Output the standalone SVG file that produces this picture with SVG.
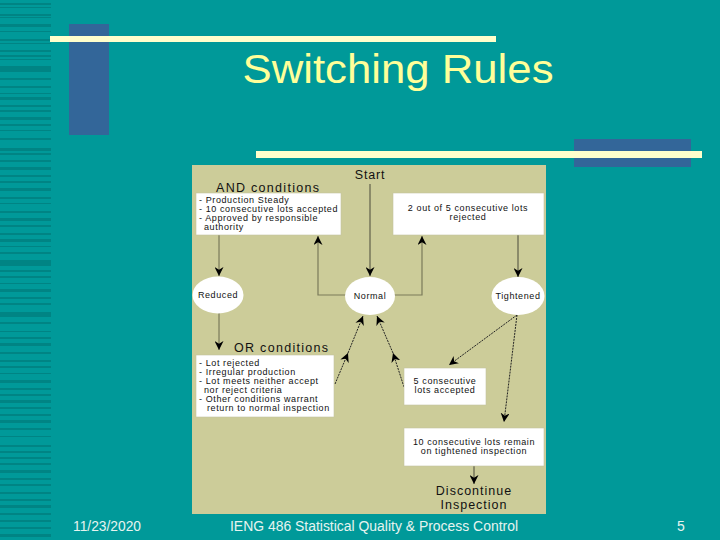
<svg xmlns="http://www.w3.org/2000/svg" width="720" height="540" viewBox="0 0 720 540">
<defs>
<style>
.bg{fill:#009999}
.stripe{fill:#008484}
.blue{fill:#336699}
.cream{fill:#ffffcc}
.title{font-family:"Liberation Sans",Arial,sans-serif;font-size:40px;fill:#ffff99;text-anchor:middle}
.foot{font-family:"Liberation Sans",Arial,sans-serif;font-size:14px;fill:#e6f4f0}
.box{fill:#ffffff;stroke:#c4c4a0;stroke-width:0.6}
.ell{fill:#ffffff}
.big{font-family:"Liberation Sans",Arial,sans-serif;font-size:12.5px;fill:#111;letter-spacing:1.3px}
.small{font-family:"Liberation Sans",Arial,sans-serif;font-size:9px;fill:#111;letter-spacing:0.6px}
.mid{text-anchor:middle}
.olive{fill:none;stroke:#7a7a5a;stroke-width:1.2}
.dark{fill:none;stroke:#4a4a3a;stroke-width:1}
.dash{fill:none;stroke:#222;stroke-width:1;stroke-dasharray:2 1}
</style>
<marker id="ah" viewBox="0 0 10 10" refX="10" refY="5" markerWidth="9" markerHeight="9" markerUnits="userSpaceOnUse" orient="auto">
<path d="M0,0 L10,5 L0,10 L3,5 z" fill="#000"/>
</marker>
</defs>
<rect class="bg" x="0" y="0" width="720" height="540"/>
<g id="stripes">
<rect class="stripe" x="0" y="3" width="51" height="2"/>
<rect class="stripe" x="0" y="7" width="51" height="1"/>
<rect class="stripe" x="0" y="14" width="51" height="2"/>
<rect class="stripe" x="0" y="17" width="51" height="1"/>
<rect class="stripe" x="0" y="24" width="51" height="3"/>
<rect class="stripe" x="0" y="31" width="51" height="1"/>
<rect class="stripe" x="0" y="39" width="51" height="2"/>
<rect class="stripe" x="0" y="43" width="51" height="1"/>
<rect class="stripe" x="0" y="50" width="51" height="2"/>
<rect class="stripe" x="0" y="55" width="51" height="2"/>
<rect class="stripe" x="0" y="59" width="51" height="1"/>
<rect class="stripe" x="0" y="66" width="51" height="6"/>
<rect class="stripe" x="0" y="78" width="51" height="2"/>
<rect class="stripe" x="0" y="86" width="51" height="2"/>
<rect class="stripe" x="0" y="93" width="51" height="1"/>
<rect class="stripe" x="0" y="97" width="51" height="3"/>
<rect class="stripe" x="0" y="105" width="51" height="2"/>
<rect class="stripe" x="0" y="110" width="51" height="2"/>
<rect class="stripe" x="0" y="117" width="51" height="3"/>
<rect class="stripe" x="0" y="124" width="51" height="2"/>
<rect class="stripe" x="0" y="130" width="51" height="1"/>
<rect class="stripe" x="0" y="138" width="51" height="2"/>
<rect class="stripe" x="0" y="148" width="51" height="3"/>
<rect class="stripe" x="0" y="153" width="51" height="2"/>
<rect class="stripe" x="0" y="160" width="51" height="2"/>
<rect class="stripe" x="0" y="167" width="51" height="3"/>
<rect class="stripe" x="0" y="175" width="51" height="2"/>
<rect class="stripe" x="0" y="181" width="51" height="2"/>
<rect class="stripe" x="0" y="188" width="51" height="3"/>
<rect class="stripe" x="0" y="197" width="51" height="2"/>
<rect class="stripe" x="0" y="203" width="51" height="1"/>
<rect class="stripe" x="0" y="211" width="51" height="2"/>
<rect class="stripe" x="0" y="218" width="51" height="3"/>
<rect class="stripe" x="0" y="225" width="51" height="2"/>
<rect class="stripe" x="0" y="233" width="51" height="2"/>
<rect class="stripe" x="0" y="239" width="51" height="3"/>
<rect class="stripe" x="0" y="246" width="51" height="1"/>
<rect class="stripe" x="0" y="252" width="51" height="2"/>
<rect class="stripe" x="0" y="260" width="51" height="6"/>
<rect class="stripe" x="0" y="270" width="51" height="2"/>
<rect class="stripe" x="0" y="276" width="51" height="2"/>
<rect class="stripe" x="0" y="283" width="51" height="1"/>
<rect class="stripe" x="0" y="289" width="51" height="3"/>
<rect class="stripe" x="0" y="297" width="51" height="2"/>
<rect class="stripe" x="0" y="303" width="51" height="2"/>
<rect class="stripe" x="0" y="312" width="51" height="5"/>
<rect class="stripe" x="0" y="322" width="51" height="2"/>
<rect class="stripe" x="0" y="331" width="51" height="1"/>
<rect class="stripe" x="0" y="337" width="51" height="2"/>
<rect class="stripe" x="0" y="343" width="51" height="3"/>
<rect class="stripe" x="0" y="352" width="51" height="2"/>
<rect class="stripe" x="0" y="360" width="51" height="2"/>
<rect class="stripe" x="0" y="366" width="51" height="2"/>
<rect class="stripe" x="0" y="373" width="51" height="1"/>
<rect class="stripe" x="0" y="380" width="51" height="3"/>
<rect class="stripe" x="0" y="388" width="51" height="2"/>
<rect class="stripe" x="0" y="394" width="51" height="2"/>
<rect class="stripe" x="0" y="400" width="51" height="3"/>
<rect class="stripe" x="0" y="407" width="51" height="2"/>
<rect class="stripe" x="0" y="414" width="51" height="2"/>
<rect class="stripe" x="0" y="420" width="51" height="3"/>
<rect class="stripe" x="0" y="428" width="51" height="2"/>
<rect class="stripe" x="0" y="436" width="51" height="1"/>
<rect class="stripe" x="0" y="445" width="51" height="2"/>
<rect class="stripe" x="0" y="451" width="51" height="2"/>
<rect class="stripe" x="0" y="457" width="51" height="2"/>
<rect class="stripe" x="0" y="463" width="51" height="2"/>
<rect class="stripe" x="0" y="470" width="51" height="3"/>
<rect class="stripe" x="0" y="478" width="51" height="2"/>
<rect class="stripe" x="0" y="484" width="51" height="2"/>
<rect class="stripe" x="0" y="492" width="51" height="2"/>
<rect class="stripe" x="0" y="499" width="51" height="2"/>
<rect class="stripe" x="0" y="505" width="51" height="3"/>
<rect class="stripe" x="0" y="513" width="51" height="2"/>
<rect class="stripe" x="0" y="520" width="51" height="2"/>
<rect class="stripe" x="0" y="527" width="51" height="2"/>
<rect class="stripe" x="0" y="534" width="51" height="3"/>
</g>
<g id="decor">
<rect class="blue" x="69" y="24" width="40" height="111"/>
<rect class="blue" x="574" y="139" width="117" height="28"/>
<rect class="cream" x="50" y="36" width="446" height="6"/>
<rect class="cream" x="256" y="151" width="446" height="7"/>
</g>
<text class="title" x="398" y="83" textLength="311" lengthAdjust="spacingAndGlyphs">Switching Rules</text>
<rect id="panel" x="192" y="165" width="354" height="349" fill="#cccc99"/>
<g id="connectors">
<line class="olive" x1="219" y1="235" x2="219" y2="276" marker-end="url(#ah)"/>
<path class="olive" d="M346,295 H318 V236" marker-end="url(#ah)"/>
<path class="olive" d="M394,295 H422 V236" marker-end="url(#ah)"/>
<line class="dark" x1="370" y1="184" x2="370" y2="276" marker-end="url(#ah)"/>
<line class="dark" x1="518" y1="235" x2="518" y2="277" marker-end="url(#ah)"/>
<line class="olive" x1="219" y1="313" x2="219" y2="350" marker-end="url(#ah)"/>
<line class="dash" x1="335" y1="384" x2="348" y2="353" marker-end="url(#ah)"/>
<line class="dash" x1="348" y1="353" x2="363" y2="316" marker-end="url(#ah)"/>
<line class="dash" x1="404" y1="387" x2="393" y2="353" marker-end="url(#ah)"/>
<line class="dash" x1="393" y1="353" x2="377" y2="316" marker-end="url(#ah)"/>
<line class="dash" x1="517" y1="315" x2="449" y2="365" marker-end="url(#ah)"/>
<line class="dash" x1="517" y1="315" x2="504" y2="422" marker-end="url(#ah)"/>
<line class="dark" x1="474" y1="466" x2="474" y2="484" marker-end="url(#ah)"/>
</g>
<g id="start"><text class="big mid" x="370" y="179" style="letter-spacing:0.8px">Start</text></g>
<g id="and-conditions">
<text class="big" x="216" y="192">AND conditions</text>
<rect class="box" x="196" y="193" width="145" height="42"/>
<text class="small" x="199" y="203">- Production Steady</text>
<text class="small" x="199" y="212">- 10 consecutive lots accepted</text>
<text class="small" x="199" y="221">- Approved by responsible</text>
<text class="small" x="204" y="230">authority</text>
</g>
<g id="two-of-five">
<rect class="box" x="393" y="193" width="151" height="42"/>
<text class="small mid" x="468" y="211">2 out of 5 consecutive lots</text>
<text class="small mid" x="468" y="220">rejected</text>
</g>
<g id="reduced">
<ellipse class="ell" cx="218" cy="295" rx="25.5" ry="18.5"/>
<text class="small mid" x="218" y="298">Reduced</text>
</g>
<g id="normal">
<ellipse class="ell" cx="370" cy="296" rx="25" ry="19"/>
<text class="small mid" x="370" y="299">Normal</text>
</g>
<g id="tightened">
<ellipse class="ell" cx="518" cy="296" rx="26.5" ry="19"/>
<text class="small mid" x="518" y="299">Tightened</text>
</g>
<g id="or-conditions">
<text class="big" x="234" y="352">OR conditions</text>
<rect class="box" x="196" y="355" width="138" height="62"/>
<text class="small" x="199" y="366">- Lot rejected</text>
<text class="small" x="199" y="375">- Irregular production</text>
<text class="small" x="199" y="384">- Lot meets neither accept</text>
<text class="small" x="204" y="393">nor reject criteria</text>
<text class="small" x="199" y="402">- Other conditions warrant</text>
<text class="small" x="207" y="411">return to normal inspection</text>
</g>
<g id="five-accepted">
<rect class="box" x="404" y="368" width="82" height="37"/>
<text class="small mid" x="445" y="384">5 consecutive</text>
<text class="small mid" x="445" y="393">lots accepted</text>
</g>
<g id="ten-remain">
<rect class="box" x="404" y="428" width="140" height="38"/>
<text class="small mid" x="474" y="445">10 consecutive lots remain</text>
<text class="small mid" x="474" y="454">on tightened inspection</text>
</g>
<g id="discontinue">
<text class="big mid" x="474" y="495" style="letter-spacing:1px">Discontinue</text>
<text class="big mid" x="474" y="509" style="letter-spacing:1px">Inspection</text>
</g>
<g id="footer">
<text class="foot" x="73" y="531" textLength="68" lengthAdjust="spacingAndGlyphs">11/23/2020</text>
<text class="foot" x="230" y="531" textLength="288" lengthAdjust="spacingAndGlyphs">IENG 486 Statistical Quality &amp; Process Control</text>
<text class="foot" x="677" y="531">5</text>
</g>
</svg>
